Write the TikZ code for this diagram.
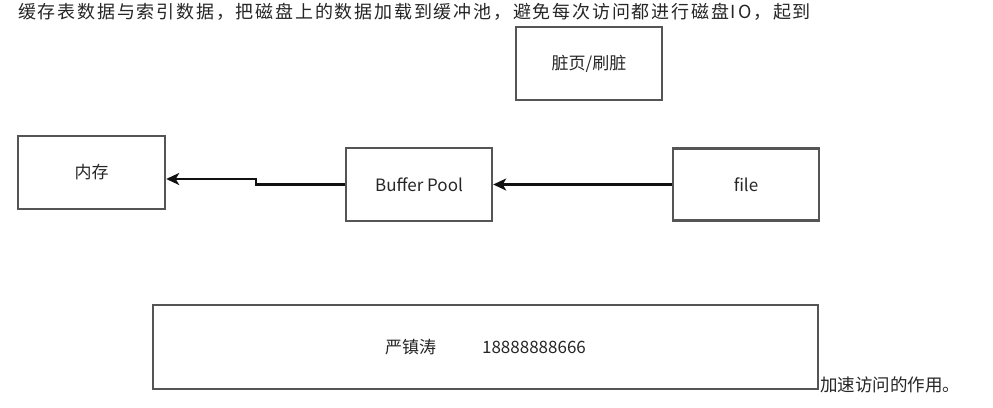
\documentclass[tikz,border=0pt]{standalone}
\usepackage{fontspec}
\setmainfont{Noto Sans CJK SC}
\newfontfamily\topfont[LetterSpace=10]{Noto Sans CJK SC}
\usetikzlibrary{arrows.meta}
\definecolor{txt}{HTML}{262626}
\definecolor{boxline}{HTML}{555555}
\definecolor{arrowline}{HTML}{111111}
\tikzset{
  box/.style={draw=boxline, line width=2.4pt, inner sep=0pt, text=txt, font=\fontsize{17}{20}\selectfont},
  arr/.style={draw=arrowline, line width=2.2pt, -{Stealth[length=13pt, width=12pt, inset=3.5pt]}},
  plain/.style={inner sep=0pt, text=txt}
}
\begin{document}
\begin{tikzpicture}[x=1pt, y=-1pt]
\useasboundingbox[fill=white] (0,0) rectangle (993,407);
\node[plain, anchor=base west, font=\topfont\fontsize{18}{21}\selectfont] (top) at (18,18) {缓存表数据与索引数据，把磁盘上的数据加载到缓冲池，避免每次访问都进行磁盘IO，起到};
\node[box, minimum width=146pt, minimum height=73pt] (dirty) at (589,63.5) {脏页/刷脏};
\node[box, minimum width=147pt, minimum height=73pt] (mem) at (91.5,172.5) {内存};
\node[box, minimum width=146pt, minimum height=73pt] (bp) at (419,184.5) {Buffer Pool};
\node[box, minimum width=146pt, minimum height=72pt] (file) at (746,184.5) {file};
\node[box, minimum width=665pt, minimum height=84pt] (big) at (485.5,347) {严镇涛\hspace{46pt}18888888666};
\node[plain, anchor=base west, font=\fontsize{17.5}{20}\selectfont] (tail) at (820,391) {加速访问的作用。};
\coordinate (step) at (256,179);
\draw[arr] (file.west) -- (bp.east);
\draw[arr] (bp.west) -| (step) -- (step -| mem.east);
\end{tikzpicture}
\end{document}
